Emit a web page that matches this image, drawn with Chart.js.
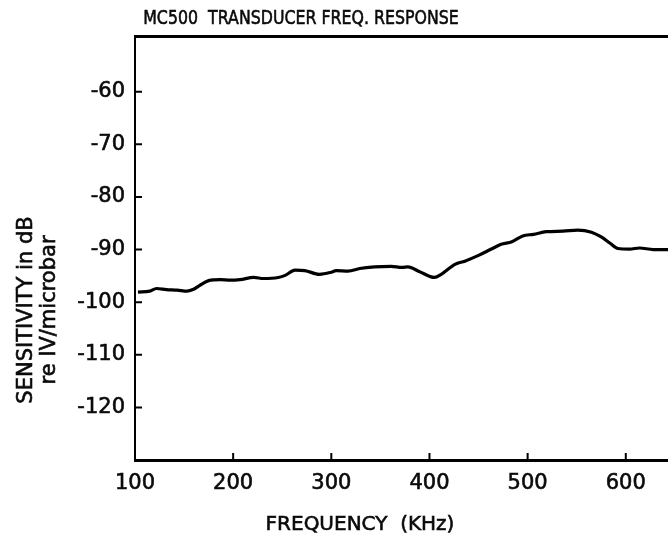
<!DOCTYPE html>
<html>
<head>
<meta charset="utf-8">
<script src="https://cdn.jsdelivr.net/npm/chart.js@4/dist/chart.umd.min.js"></script>
<style>
  html, body { margin: 0; padding: 0; background: #fff; overflow: hidden; }
  canvas { display: block; }
</style>
</head>
<body>
<canvas id="c" width="668" height="539"></canvas>
<script>
// ---- data ----
const chartTitle = 'MC500  TRANSDUCER FREQ. RESPONSE';
const xTitle = 'FREQUENCY  (KHz)';
const yTitleLines = ['SENSITIVITY in dB', 're IV/microbar'];

const freqKHz = [103,115,122,132,143,153,159,166,175,187,197,207,221,231,246,253,263,273,288,300,305,317,329,344,361,372,378,390,405,412,426,436,450,463,473,484,495,506,519,536,551,565,575,584,592,604,614,628,643];
const sensitivityDb = [-98.1,-97.9,-97.4,-97.6,-97.7,-97.9,-97.6,-96.8,-95.9,-95.7,-95.8,-95.7,-95.3,-95.5,-95.3,-94.9,-93.9,-94.0,-94.7,-94.3,-94.0,-94.1,-93.6,-93.3,-93.2,-93.4,-93.3,-94.2,-95.3,-94.7,-92.8,-92.2,-91.1,-89.9,-89.0,-88.5,-87.4,-87.1,-86.6,-86.5,-86.3,-86.7,-87.6,-88.8,-89.8,-89.9,-89.7,-90.0,-90.0];

const xTicks = [100, 200, 300, 400, 500, 600];
const yTicks = [-60, -70, -80, -90, -100, -110, -120];

const points = freqKHz.map((f, i) => ({ x: f, y: sensitivityDb[i] }));

const INK = '#0a0a0a';
const FONT = 'DejaVu Sans';

function inkText(ctx, t, x, y) {
  ctx.fillText(t, x, y);
  ctx.strokeText(t, x, y);
}

const decorPlugin = {
  id: 'decor',
  afterDraw(chart) {
    const { ctx, chartArea: a, scales } = chart;
    const xs = scales.x, ys = scales.y;
    ctx.save();
    ctx.strokeStyle = '#000';
    ctx.lineWidth = 2;
    ctx.beginPath();
    yTicks.forEach(v => {
      const py = ys.getPixelForValue(v);
      ctx.moveTo(a.left, py); ctx.lineTo(a.left + 7, py);
    });
    xTicks.forEach(v => {
      if (v === xTicks[0]) return;
      const px = xs.getPixelForValue(v);
      ctx.moveTo(px, a.bottom); ctx.lineTo(px, a.bottom - 7);
    });
    ctx.stroke();

    ctx.fillStyle = INK;
    ctx.strokeStyle = INK;
    ctx.lineWidth = 0.6;
    // main title (condensed lettering)
    ctx.save();
    ctx.font = '20px "' + FONT + '"';
    ctx.textAlign = 'center';
    ctx.textBaseline = 'alphabetic';
    ctx.translate(301, 24);
    ctx.scale(0.79, 1);
    inkText(ctx, chartTitle, 0, 0);
    ctx.restore();

    // x axis title
    ctx.font = '20px "' + FONT + '"';
    ctx.textAlign = 'center';
    ctx.textBaseline = 'alphabetic';
    inkText(ctx, xTitle, 360, 530);

    // y axis title (two rotated lines)
    const baseX = [32, 55];
    ctx.font = '21px "' + FONT + '"';
    yTitleLines.forEach((t, i) => {
      ctx.save();
      ctx.translate(baseX[i], 310);
      ctx.rotate(-Math.PI / 2);
      inkText(ctx, t, 0, 0);
      ctx.restore();
    });
    ctx.restore();
  }
};

new Chart(document.getElementById('c').getContext('2d'), {
  type: 'line',
  data: {
    datasets: [{
      data: points,
      borderColor: '#000',
      borderWidth: 3.2,
      pointRadius: 0,
      fill: false,
      cubicInterpolationMode: 'monotone'
    }]
  },
  options: {
    responsive: false,
    animation: false,
    layout: { padding: { top: 36, left: 0, right: 0, bottom: 0 } },
    plugins: {
      legend: { display: false },
      tooltip: { enabled: false },
      title: { display: false }
    },
    scales: {
      x: {
        type: 'linear', position: 'bottom', min: 100, max: 643,
        afterBuildTicks: s => { s.ticks = xTicks.map(v => ({ value: v })); },
        ticks: { autoSkip: false, maxRotation: 0, padding: 11, color: INK,
                 textStrokeColor: INK, textStrokeWidth: 0.6,
                 font: { family: FONT, size: 21 }, callback: v => String(v) },
        grid: { display: false, drawTicks: false },
        border: { display: true, color: '#000', width: 3 },
        afterFit: s => { s.height = 79; }
      },
      x2: {
        type: 'linear', position: 'top', min: 100, max: 643,
        ticks: { display: false },
        grid: { display: false, drawTicks: false },
        border: { display: true, color: '#000', width: 3 },
        afterFit: s => { s.height = 0; }
      },
      y: {
        type: 'linear', min: -130, max: -49.4,
        afterBuildTicks: s => { s.ticks = yTicks.map(v => ({ value: v })); },
        ticks: { padding: 10, color: INK, textStrokeColor: INK, textStrokeWidth: 0.6,
                 font: { family: FONT, size: 21 }, callback: v => String(v) },
        grid: { display: false, drawTicks: false },
        border: { display: true, color: '#000', width: 2 },
        afterFit: s => { s.width = 135; }
      }
    }
  },
  plugins: [decorPlugin]
});
</script>
</body>
</html>
